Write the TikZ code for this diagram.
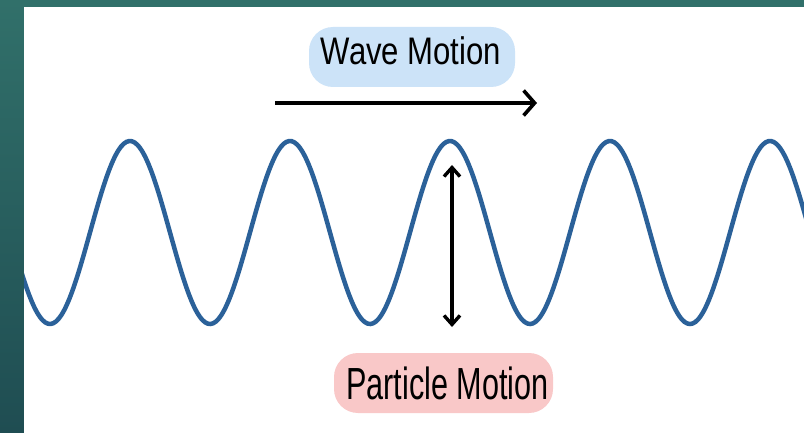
\documentclass[tikz,border=0pt]{standalone}
\usepackage{fontspec}
\setmainfont{Liberation Sans}
\usepackage{graphicx}
\usetikzlibrary{arrows.meta}
\definecolor{wavecol}{HTML}{2B6199}
\definecolor{boxblue}{HTML}{CCE3F8}
\definecolor{boxpink}{HTML}{F9C8C8}
\definecolor{tealA}{HTML}{31706A}
\definecolor{tealB}{HTML}{1F4D52}
\tikzset{
  pill/.style={rounded corners=24pt, inner sep=0pt},
  motionarrow/.style={line width=3.6pt, -{Straight Barb[length=11pt,width=25pt,line width=3.6pt]}},
  particlearrow/.style={line width=3.2pt, {Straight Barb[length=9pt,width=16pt,line width=3.4pt]}-{Straight Barb[length=9pt,width=16pt,line width=3.4pt]}},
  wavestyle/.style={draw=wavecol, line width=4.5pt}
}
\begin{document}
\begin{tikzpicture}[x=1pt,y=-1pt]
\useasboundingbox (0,0) rectangle (804,433);
% background
\shade[top color=tealA, bottom color=tealB] (0,0) rectangle (804,433);
\fill[white] (24,7) rectangle (804,433);
% wave
\begin{scope}
\clip (24,7) rectangle (804,433);
\draw[wavestyle] plot[domain=10:820, samples=300, smooth] (\x,{232.5+91.5*cos((\x-50)*2.25)});
\end{scope}
% labels
\node[pill, fill=boxblue, minimum width=206pt, minimum height=60pt] (wbox) at (412,57) {};
\node[anchor=base, inner sep=0pt, font=\fontsize{38.4pt}{40pt}\selectfont] (wtext) at (411,65) {\scalebox{0.81}[1]{Wave Motion}};
\node[pill, fill=boxpink, minimum width=219pt, minimum height=60pt] (pbox) at (443.5,383) {};
\node[anchor=base, inner sep=0pt, font=\fontsize{45pt}{47pt}\selectfont] (ptext) at (447.5,399) {\scalebox{0.68}[1]{Particle Motion}};
% arrows
\coordinate (wstart) at (275,103);
\coordinate (wend) at (537,103);
\draw[motionarrow] (wstart) -- (wend);
\coordinate (ptop) at (452,165);
\coordinate (pbot) at (452,327);
\draw[particlearrow] (ptop) -- (pbot);
\end{tikzpicture}
\end{document}
